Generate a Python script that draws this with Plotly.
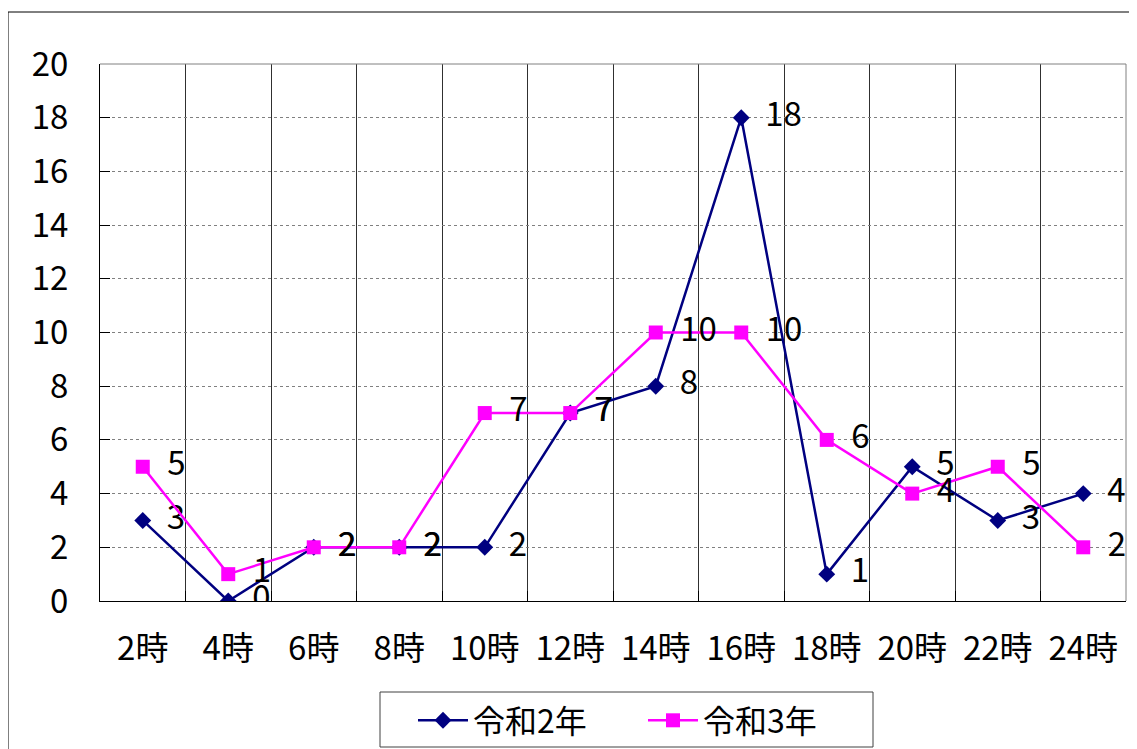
import plotly.graph_objects as go

categories = ["2時", "4時", "6時", "8時", "10時", "12時", "14時", "16時", "18時", "20時", "22時", "24時"]
r2_values = [3, 0, 2, 2, 2, 7, 8, 18, 1, 5, 3, 4]
r3_values = [5, 1, 2, 2, 7, 7, 10, 10, 6, 4, 5, 2]
series_names = ["令和2年", "令和3年"]
y_ticks = list(range(0, 21, 2))

FONT = "Noto Sans CJK JP"
FS = 33
fig = go.Figure()
fig.add_trace(go.Scatter(
    x=categories, y=r2_values, name=series_names[0], mode="lines+markers+text",
    line=dict(color="#000080", width=2.5),
    marker=dict(symbol="diamond", size=13, color="#000080"),
    text=["\u00a0\u00a0" + str(v) for v in r2_values], textposition="middle right",
    textfont=dict(family=FONT, size=FS, color="black"),
))
fig.add_trace(go.Scatter(
    x=categories, y=r3_values, name=series_names[1], mode="lines+markers+text",
    line=dict(color="#FF00FF", width=2.5),
    marker=dict(symbol="square", size=14, color="#FF00FF"),
    text=["\u00a0\u00a0" + str(v) for v in r3_values], textposition="middle right",
    textfont=dict(family=FONT, size=FS, color="black"),
))

# page offset of 8px (body margin) is compensated: plot area 100..1126 x 64..601
W, H = 1129, 741
L, R, T, B = 92, 11, 56, 148
pw, ph = W - L - R, H - T - B

def px(x):
    return (x - 8 - L) / pw

def py(y):
    return (H - B - (y - 8)) / ph

fig.update_layout(
    width=W, height=H,
    margin=dict(l=L, r=R, t=T, b=B, autoexpand=False),
    paper_bgcolor="white", plot_bgcolor="white",
    font=dict(family=FONT, size=FS, color="black"),
    showlegend=True,
    legend=dict(orientation="h", x=px(413), y=py(693), xanchor="left", yanchor="top",
                borderwidth=0, bgcolor="rgba(0,0,0,0)",
                font=dict(family=FONT, size=32), entrywidth=165, itemwidth=50,
                tracegroupgap=0),
    xaxis=dict(type="category", range=[-0.5, 11.5], tickson="boundaries",
               showgrid=True, gridcolor="#303030", gridwidth=1,
               showline=True, linecolor="black", linewidth=1,
               ticks="inside", ticklen=10, tickcolor="black",
               ticklabelstandoff=18, automargin=False),
    yaxis=dict(range=[0, 20], tickvals=y_ticks, showgrid=True,
               gridcolor="#808080", gridwidth=1, griddash="dot",
               showline=True, linecolor="black", linewidth=1,
               ticks="inside", ticklen=10, tickcolor="black",
               ticklabelstandoff=24, zeroline=False, automargin=False),
    shapes=[
        dict(type="rect", xref="paper", yref="paper", x0=px(8), x1=px(1160),
             y0=py(800), y1=py(12), line=dict(color="black", width=1), layer="below"),
        dict(type="rect", xref="paper", yref="paper", x0=px(380), x1=px(873),
             y0=py(747), y1=py(692), line=dict(color="#404040", width=1),
             fillcolor="white", layer="below"),
        dict(type="line", xref="paper", yref="paper", x0=0, x1=1, y0=1, y1=1,
             line=dict(color="#808080", width=1)),
        dict(type="line", xref="paper", yref="paper", x0=1, x1=1, y0=0, y1=1,
             line=dict(color="#808080", width=1)),
    ],
)
fig.write_html("out.html")
